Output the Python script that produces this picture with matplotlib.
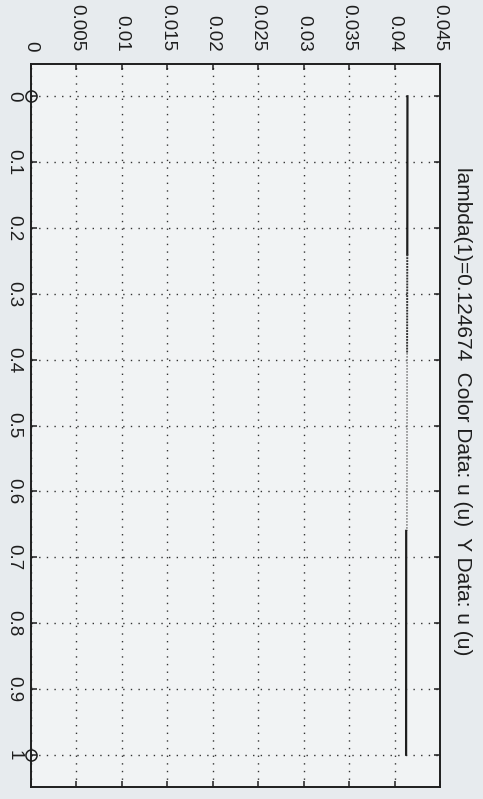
import matplotlib
matplotlib.use("Agg")
import matplotlib.pyplot as plt

# branch traced in the (rotated) scan: lambda runs down the page, u across
lam_top = [0.0, 0.24]
u_top = [0.04142, 0.04140]
lam_mid = [0.24, 0.39]
u_mid = [0.04140, 0.04138]
lam_faint = [0.39, 0.66]
u_faint = [0.04138, 0.04136]
lam_bot = [0.66, 1.0]
u_bot = [0.04128, 0.04127]

# end points marked on the u = 0 axis
pt_lam = [0.0, 1.0]
pt_u = [0.0, 0.0]

u_ticks = [0, 0.005, 0.01, 0.015, 0.02, 0.025, 0.03, 0.035, 0.04, 0.045]
u_labels = ["0", "0.005", "0.01", "0.015", "0.02", "0.025", "0.03", "0.035", "0.04", "0.045"]
lam_ticks = [0, 0.1, 0.2, 0.3, 0.4, 0.5, 0.6, 0.7, 0.8, 0.9, 1]
lam_labels = ["0", "0.1", "0.2", "0.3", "0.4", "0.5", "0.6", "0.7", "0.8", "0.9", "1"]

title_text = "lambda(1)=0.124674  Color Data: u (u)  Y Data: u (u)"

plt.rcParams["font.family"] = ["Liberation Sans", "DejaVu Sans"]

W, H = 483, 799
fig = plt.figure(figsize=(W / 100, H / 100), dpi=100, facecolor="#e7ebee")
ax = fig.add_axes([31 / W, 1 - 787 / H, 409 / W, 723 / H], facecolor="#f1f3f4")

ink = "#1e1e1e"
ax.plot(u_top, lam_top, color=ink, lw=1.6)
ax.plot(u_mid, lam_mid, color="#333333", lw=1.4, ls=(0, (1, 0.5)))
ax.plot(u_faint, lam_faint, color="#8a8a8a", lw=1.2, ls=(0, (1, 0.8)))
ax.plot(u_bot, lam_bot, color=ink, lw=1.6)
ax.plot(pt_u, pt_lam, "o", ms=8, mfc="none", mec=ink, mew=1.1, clip_on=False, zorder=5)

ax.set_xlim(0, 0.045)
ax.set_ylim(1.049, -0.049)

ax.set_xticks(u_ticks)
ax.set_xticklabels(u_labels, rotation=-90)
ax.set_yticks(lam_ticks)
ax.set_yticklabels(lam_labels, rotation=-90, va="center")

ax.xaxis.tick_top()
ax.tick_params(axis="both", which="both", direction="in", length=4, width=1.1,
               colors=ink, labelsize=13.5, top=True, bottom=True, left=True, right=True)
ax.tick_params(axis="x", pad=9)
ax.tick_params(axis="y", pad=6)

ax.grid(True, color="#333333", lw=1.0, ls=(0, (1, 4.5)))

for sp in ax.spines.values():
    sp.set_color(ink)
    sp.set_linewidth(1.4)

ax.text(1.055, 0.52, title_text, transform=ax.transAxes, rotation=-90,
        ha="center", va="center", fontsize=15, color=ink)

fig.savefig("out.png", dpi=100, facecolor=fig.get_facecolor())
